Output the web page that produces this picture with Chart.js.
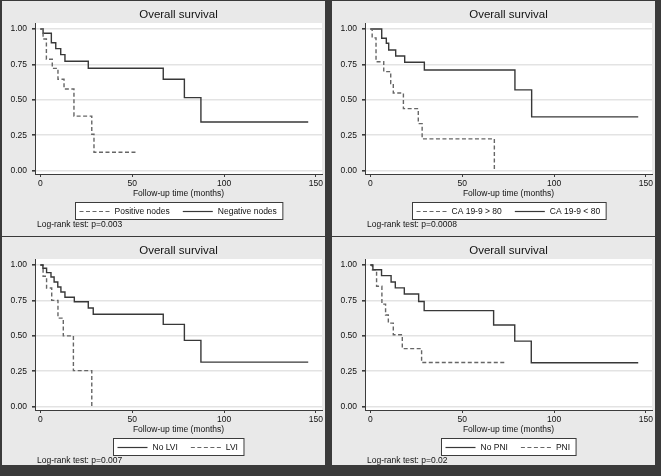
<!DOCTYPE html>
<html><head><meta charset="utf-8">
<script src="https://cdn.jsdelivr.net/npm/chart.js@4/dist/chart.umd.min.js"></script>
<style>
html,body{margin:0;padding:0;background:#fff;}
#fig{position:relative;width:661px;height:476px;background:#3a3a3a;overflow:hidden;}
#fig canvas{position:absolute;display:block;}
</style></head><body>
<div id="fig">
<canvas id="c1"></canvas><canvas id="c2"></canvas><canvas id="c3"></canvas><canvas id="c4"></canvas>
</div>
<script>
// ---- shared labels ----
const TITLE = 'Overall survival';
const X_TITLE = 'Follow-up time (months)';
const X_TICKS = [0, 50, 100, 150];
const X_TICK_LABELS = ['0', '50', '100', '150'];
const Y_TICKS = [0, 0.25, 0.5, 0.75, 1];
const Y_TICK_LABELS = ['0.00', '0.25', '0.50', '0.75', '1.00'];

// ---- panel 1: lymph nodes ----
const p1Labels = ['Positive nodes', 'Negative nodes'];
const p1PosTime = [0, 1.5, 3.3, 6.5, 9.6, 12.9, 18.3, 28.0, 29.2, 52.0];
const p1PosSurv = [1, 0.929, 0.786, 0.722, 0.645, 0.577, 0.385, 0.257, 0.130, 0.130];
const p1NegTime = [0, 1.5, 6.0, 8.4, 11.1, 13.4, 26.1, 66.9, 78.4, 87.4, 145.8];
const p1NegSurv = [1, 0.970, 0.903, 0.861, 0.819, 0.772, 0.723, 0.645, 0.516, 0.344, 0.344];
const p1Note = 'Log-rank test: p=0.003';

// ---- panel 2: CA 19-9 ----
const p2Labels = ['CA 19-9 > 80', 'CA 19-9 < 80'];
const p2HighTime = [0, 1.0, 3.1, 7.3, 11.1, 12.5, 18.0, 26.1, 28.2, 67.5];
const p2HighSurv = [1, 0.937, 0.769, 0.699, 0.615, 0.548, 0.438, 0.332, 0.225, 0];
const p2LowTime = [0, 6.2, 8.7, 10.0, 13.8, 18.7, 29.4, 78.7, 87.8, 145.8];
const p2LowSurv = [1, 0.934, 0.899, 0.852, 0.809, 0.765, 0.711, 0.570, 0.380, 0.380];
const p2Note = 'Log-rank test: p=0.0008';

// ---- panel 3: LVI ----
const p3Labels = ['No LVI', 'LVI'];
const p3NoTime = [0, 1.4, 3.4, 5.8, 7.5, 9.5, 11.2, 13.4, 18.5, 26.1, 28.8, 66.9, 78.4, 87.4, 145.8];
const p3NoSurv = [1, 0.977, 0.946, 0.915, 0.880, 0.845, 0.809, 0.772, 0.741, 0.696, 0.652, 0.581, 0.468, 0.315, 0.315];
const p3LviTime = [0, 1.5, 3.4, 6.2, 9.6, 12.5, 18.0, 28.0];
const p3LviSurv = [1, 0.920, 0.837, 0.750, 0.625, 0.500, 0.255, 0];
const p3Note = 'Log-rank test: p=0.007';

// ---- panel 4: PNI ----
const p4Labels = ['No PNI', 'PNI'];
const p4NoTime = [0, 1.4, 6.1, 11.3, 13.6, 18.5, 26.3, 29.3, 67.1, 78.6, 87.6, 145.8];
const p4NoSurv = [1, 0.966, 0.925, 0.880, 0.838, 0.795, 0.742, 0.678, 0.577, 0.463, 0.310, 0.310];
const p4PniTime = [0, 1.1, 3.4, 6.3, 8.3, 9.8, 12.5, 17.4, 27.9, 74.2];
const p4PniSurv = [1, 0.965, 0.850, 0.724, 0.647, 0.590, 0.508, 0.410, 0.312, 0.312];
const p4Note = 'Log-rank test: p=0.02';

// ---- styles ----
const FONT = '"Liberation Sans", Arial, Helvetica, sans-serif';
const PANEL_BG = '#e9e9e9';
const AXIS_COL = '#3c3c3c';
const GRID_COL = '#e3e3e3';
const SOLID = { color: '#383838', dash: [] };
const DASHED = { color: '#666666', dash: [4, 2.5] };

function pts(t, s) { return t.map((v, i) => ({ x: v, y: s[i] })); }

// panel geometry (absolute px in the 661x476 figure)
const PANEL_DX = 330, PANEL_DY = 236;
const AREA = { left: 35, right: 322, top: 23, bottom: 174 };

const deco = {
  id: 'deco',
  beforeDraw(chart) {
    const { ctx, chartArea: a } = chart;
    ctx.save();
    ctx.fillStyle = PANEL_BG;
    ctx.fillRect(0, 0, chart.width, chart.height);
    ctx.fillStyle = '#ffffff';
    ctx.fillRect(a.left, a.top, a.right - a.left, a.bottom - a.top);
    ctx.restore();
  },
  afterDraw(chart, args, o) {
    const { ctx, chartArea: a } = chart;
    const cx = (a.left + a.right) / 2;
    ctx.save();
    ctx.fillStyle = '#111';
    ctx.textBaseline = 'middle';
    ctx.textAlign = 'center';
    ctx.font = '11.5px ' + FONT;
    ctx.fillText(o.title, cx, a.top - 8);
    ctx.font = '8.5px ' + FONT;
    ctx.fillText(o.xTitle, cx, a.bottom + 19.5);
    // legend
    const ds = chart.data.datasets;
    const sample = 30, gap = 5, itemGap = 13, padL = 4, padR = 6;
    let w = padL + padR;
    const tw = ds.map(d => ctx.measureText(d.label).width);
    ds.forEach((d, i) => { w += sample + gap + tw[i] + (i < ds.length - 1 ? itemGap : 0); });
    const bx = Math.round(cx - w / 2) + 0.5, by = a.bottom + 28.5, bh = 17;
    ctx.fillStyle = '#ffffff';
    ctx.fillRect(bx, by, w, bh);
    ctx.strokeStyle = AXIS_COL; ctx.lineWidth = 1;
    ctx.strokeRect(bx, by, w, bh);
    let x = bx + padL;
    const ly = by + bh / 2;
    ds.forEach((d, i) => {
      ctx.beginPath();
      ctx.setLineDash(d.borderDash || []);
      ctx.strokeStyle = d.borderColor; ctx.lineWidth = 1.2;
      ctx.moveTo(x, Math.round(ly) + 0.5); ctx.lineTo(x + sample, Math.round(ly) + 0.5);
      ctx.stroke();
      ctx.setLineDash([]);
      x += sample + gap;
      ctx.fillStyle = '#111'; ctx.textAlign = 'left';
      ctx.fillText(d.label, x, ly + 0.5);
      x += tw[i] + itemGap;
    });
    // note
    ctx.textAlign = 'left';
    ctx.fillText(o.note, a.left + 2, a.bottom + 51);
    ctx.restore();
  }
};

function makePanel(id, col, row, border, series, note) {
  const canvas = document.getElementById(id);
  const left = col * PANEL_DX + border.l, top = row * PANEL_DY + border.t;
  const W = border.w, H = border.h;
  canvas.width = W; canvas.height = H;
  canvas.style.left = left + 'px'; canvas.style.top = top + 'px';
  canvas.style.width = W + 'px'; canvas.style.height = H + 'px';
  const xH = 20;
  const relLeft = AREA.left - border.l, relRight = AREA.right - border.l;
  const relTop = AREA.top - border.t, relBottom = AREA.bottom - border.t;
  new Chart(canvas, {
    type: 'line',
    data: {
      datasets: series.map(s => ({
        label: s.label,
        data: pts(s.t, s.s),
        stepped: 'before',
        borderColor: s.style.color,
        borderDash: s.style.dash,
        borderWidth: 1.4,
        pointRadius: 0,
        fill: false,
        tension: 0
      }))
    },
    options: {
      responsive: false,
      animation: false,
      devicePixelRatio: 1,
      events: [],
      layout: { padding: { top: relTop, left: 0, right: W - relRight, bottom: H - relBottom - xH } },
      plugins: {
        legend: { display: false },
        title: { display: false },
        tooltip: { enabled: false },
        deco: { title: TITLE, xTitle: X_TITLE, note: note }
      },
      scales: {
        x: {
          type: 'linear', min: -2.9, max: 153.3,
          afterBuildTicks: s => { s.ticks = X_TICKS.map(v => ({ value: v })); },
          afterFit: s => { s.height = xH; s.paddingLeft = 0; s.paddingRight = 0; },
          ticks: { font: { family: FONT, size: 8.5 }, color: '#111', padding: 2, maxRotation: 0, autoSkip: false,
                   callback: (v, i) => X_TICK_LABELS[i] },
          grid: { drawOnChartArea: false, drawTicks: true, tickLength: 3, tickColor: AXIS_COL, color: AXIS_COL },
          border: { color: AXIS_COL, width: 1 }
        },
        y: {
          type: 'linear', min: -0.023, max: 1.042,
          afterBuildTicks: s => { s.ticks = Y_TICKS.map(v => ({ value: v })); },
          afterFit: s => { s.width = relLeft; s.paddingTop = 0; s.paddingBottom = 0; },
          ticks: { font: { family: FONT, size: 8.5 }, color: '#111', padding: 5, autoSkip: false,
                   callback: (v, i) => Y_TICK_LABELS[i] },
          grid: { drawOnChartArea: true, drawTicks: true, tickLength: 3, tickColor: AXIS_COL, color: GRID_COL, lineWidth: 1.6 },
          border: { color: AXIS_COL, width: 1 }
        }
      }
    },
    plugins: [deco]
  });
}

const B_TOP = { l: 2, t: 1, w: 323, h: 235 };
const B_BOT = { l: 2, t: 1, w: 323, h: 228 };

makePanel('c1', 0, 0, B_TOP, [
  { label: p1Labels[0], t: p1PosTime, s: p1PosSurv, style: DASHED },
  { label: p1Labels[1], t: p1NegTime, s: p1NegSurv, style: SOLID }
], p1Note);
makePanel('c2', 1, 0, B_TOP, [
  { label: p2Labels[0], t: p2HighTime, s: p2HighSurv, style: DASHED },
  { label: p2Labels[1], t: p2LowTime, s: p2LowSurv, style: SOLID }
], p2Note);
makePanel('c3', 0, 1, B_BOT, [
  { label: p3Labels[0], t: p3NoTime, s: p3NoSurv, style: SOLID },
  { label: p3Labels[1], t: p3LviTime, s: p3LviSurv, style: DASHED }
], p3Note);
makePanel('c4', 1, 1, B_BOT, [
  { label: p4Labels[0], t: p4NoTime, s: p4NoSurv, style: SOLID },
  { label: p4Labels[1], t: p4PniTime, s: p4PniSurv, style: DASHED }
], p4Note);
</script>
</body></html>
